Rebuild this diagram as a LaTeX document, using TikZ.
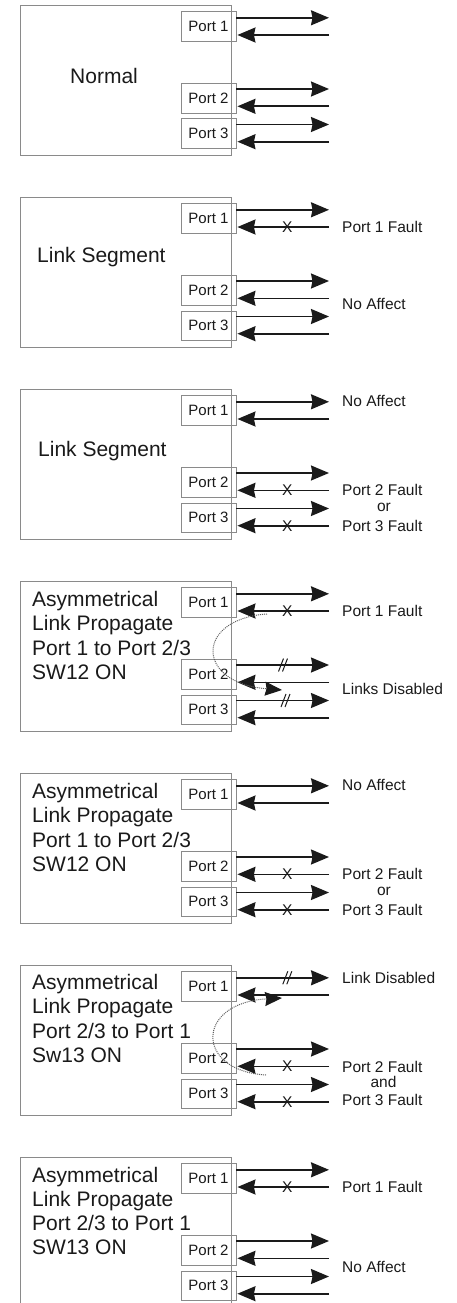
\documentclass[tikz,border=0pt]{standalone}
\usepackage{fontspec}
\setmainfont{Liberation Sans}
\usetikzlibrary{arrows.meta}
\definecolor{boxgray}{HTML}{8A8A8A}
\definecolor{ink}{HTML}{1A1A1A}
\newcommand\panelbase[2]{%
  \node[outerbox] (#1box) at (125.5,#2+75) {};
  \node[portbox] (#1p1) at (208.5,#2+21.4) {Port 1};
  \node[portbox] (#1p2) at (208.5,#2+93.5) {Port 2};
  \node[portbox] (#1p3) at (208.5,#2+128.7) {Port 3};
  \coordinate (#1o1) at (329,#2+12.8);
  \coordinate (#1i1) at (329,#2+30);
  \coordinate (#1o2) at (329,#2+84);
  \coordinate (#1i2) at (329,#2+101.3);
  \coordinate (#1o3) at (329,#2+119.5);
  \coordinate (#1i3) at (329,#2+136.7);
  \draw[link] (#1p1.east |- #1o1) -- (#1o1);
  \draw[link] (#1i1) -- ([xshift=1pt]#1p1.east |- #1i1);
  \draw[link] (#1p2.east |- #1o2) -- (#1o2);
  \draw[link] (#1i2) -- ([xshift=1pt]#1p2.east |- #1i2);
  \draw[link] (#1p3.east |- #1o3) -- (#1o3);
  \draw[link] (#1i3) -- ([xshift=1pt]#1p3.east |- #1i3);
}
\newcommand\brkmark[2]{%
  \draw[brk] (#1-4.5,#2+6.5) -- (#1+0.5,#2-6.5);
  \draw[brk] (#1-0.5,#2+6.5) -- (#1+4.5,#2-6.5);
}
\begin{document}
\begin{tikzpicture}[x=1pt,y=-1pt,
  outerbox/.style={draw=boxgray,line width=0.9pt,minimum width=211pt,minimum height=150pt,inner sep=0pt},
  portbox/.style={draw=boxgray,line width=0.9pt,minimum width=55pt,minimum height=29.5pt,inner sep=0pt,text=ink,font=\fontsize{15}{18}\selectfont},
  link/.style={draw=ink,line width=1.6pt,-{Stealth[length=18pt,width=15pt,inset=1.5pt]}},
  title/.style={anchor=base west,inner sep=0pt,text=ink,font=\fontsize{21}{24}\selectfont},
  lbl/.style={anchor=west,inner sep=0pt,text=ink,font=\fontsize{15.5}{18}\selectfont},
  clbl/.style={anchor=center,inner sep=0pt,text=ink,font=\fontsize{15.5}{18}\selectfont},
  xm/.style={inner sep=0pt,text=ink,font=\fontsize{15.5}{18}\selectfont},
  brk/.style={draw=ink,line width=1pt},
  prop/.style={draw=ink!70,line width=1pt,densely dotted,-{Stealth[length=17pt,width=14pt,inset=1.5pt,color=ink]}}
]
\useasboundingbox (0,0) rectangle (457,1303);

% Panel 1
\panelbase{a}{5}
\node[title] (at1) at (70,83.3) {Normal};

% Panel 2
\panelbase{b}{197}
\node[title] (bt1) at (37,262.4) {Link Segment};
\node[xm] (bx1) at (287.3,227) {X};
\node[lbl] (bl1) at (342,227) {Port 1 Fault};
\node[lbl] (bl2) at (342,304) {No Affect};

% Panel 3
\panelbase{c}{389}
\node[title] (ct1) at (38,456.7) {Link Segment};
\node[xm] (cx2) at (287.3,490.3) {X};
\node[xm] (cx3) at (287.3,525.7) {X};
\node[lbl] (cl1) at (342,400.5) {No Affect};
\node[lbl] (cl2) at (342,490.3) {Port 2 Fault};
\node[clbl] (cl3) at (384,507.7) {or};
\node[lbl] (cl4) at (342,525.7) {Port 3 Fault};

% Panel 4
\panelbase{d}{581}
\node[title] (dt1) at (32,606.5) {Asymmetrical};
\node[title] (dt2) at (32,630.8) {Link Propagate};
\node[title] (dt3) at (32,655.1) {Port 1 to Port 2/3};
\node[title] (dt4) at (32,679.4) {SW12 ON};
\node[xm] (dx1) at (287.3,611) {X};
\brkmark{283}{665}
\brkmark{285.5}{700.5}
\node[lbl] (dl1) at (342,611) {Port 1 Fault};
\node[lbl] (dl2) at (342,689) {Links Disabled};
\coordinate (ds) at (267,614);
\coordinate (de) at (282,690);
\draw[prop] (ds) .. controls (195,619) and (195,683) .. (de);

% Panel 5
\panelbase{e}{773}
\node[title] (et1) at (32,798.5) {Asymmetrical};
\node[title] (et2) at (32,822.8) {Link Propagate};
\node[title] (et3) at (32,847.1) {Port 1 to Port 2/3};
\node[title] (et4) at (32,871.4) {SW12 ON};
\node[xm] (ex2) at (287.3,874.3) {X};
\node[xm] (ex3) at (287.3,909.7) {X};
\node[lbl] (el1) at (342,784.5) {No Affect};
\node[lbl] (el2) at (342,874.3) {Port 2 Fault};
\node[clbl] (el3) at (384,891.7) {or};
\node[lbl] (el4) at (342,909.7) {Port 3 Fault};

% Panel 6
\panelbase{f}{965}
\node[title] (ft1) at (32,989.5) {Asymmetrical};
\node[title] (ft2) at (32,1013.8) {Link Propagate};
\node[title] (ft3) at (32,1038.1) {Port 2/3 to Port 1};
\node[title] (ft4) at (32,1062.4) {Sw13 ON};
\brkmark{287.3}{977.8}
\node[xm] (fx2) at (287.3,1066.3) {X};
\node[xm] (fx3) at (287.3,1101.7) {X};
\node[lbl] (fl1) at (342,978) {Link Disabled};
\node[lbl] (fl2) at (342,1066.5) {Port 2 Fault};
\node[clbl] (fl3) at (383.5,1082.3) {and};
\node[lbl] (fl4) at (342,1100) {Port 3 Fault};
\coordinate (fs) at (266,1075);
\coordinate (fe) at (282,998);
\draw[prop] (fs) .. controls (195,1071) and (195,1003) .. (fe);

% Panel 7
\panelbase{g}{1157}
\node[title] (gt1) at (32,1182) {Asymmetrical};
\node[title] (gt2) at (32,1206.3) {Link Propagate};
\node[title] (gt3) at (32,1230.6) {Port 2/3 to Port 1};
\node[title] (gt4) at (32,1254.9) {SW13 ON};
\node[xm] (gx1) at (287.3,1187) {X};
\node[lbl] (gl1) at (342,1187.3) {Port 1 Fault};
\node[lbl] (gl2) at (342,1266.7) {No Affect};
\end{tikzpicture}
\end{document}
